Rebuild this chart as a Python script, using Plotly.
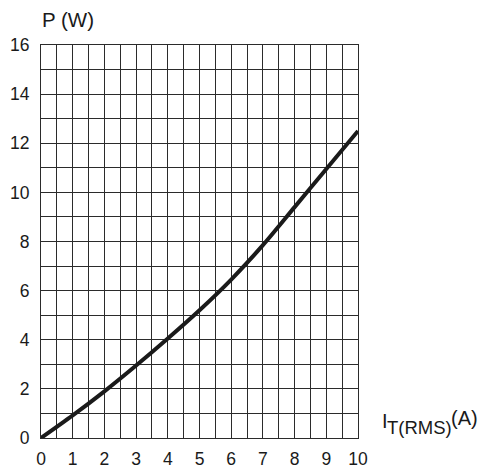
import plotly.graph_objects as go

current_a = [0, 1, 2, 3, 4, 5, 6, 7, 8, 9, 10]
power_w = [0, 0.92, 1.9, 2.95, 4.05, 5.2, 6.45, 7.85, 9.4, 10.95, 12.5]

x_ticks = list(range(0, 11))
y_ticks = list(range(0, 17, 2))

grid_col = "#2b2b2b"
text_col = "#1a1a1a"
font_fam = "Liberation Sans, Arial, sans-serif"

fig = go.Figure()
fig.add_trace(go.Scatter(
    x=current_a, y=power_w, mode="lines",
    line=dict(color=text_col, width=4, shape="spline", smoothing=0.8),
    hoverinfo="skip", showlegend=False,
))

axis_common = dict(
    showgrid=True, gridcolor=grid_col, gridwidth=1,
    showline=True, linecolor=grid_col, linewidth=1, mirror=True,
    zeroline=False, ticks="", fixedrange=True, automargin=False,
    tickfont=dict(size=17.5, color=text_col, family=font_fam),
)

fig.update_xaxes(range=[0, 10], tickvals=x_ticks, ticktext=[str(v) for v in x_ticks],
                 minor=dict(dtick=0.5, showgrid=True, gridcolor=grid_col, gridwidth=1),
                 ticklabelstandoff=5, **axis_common)
fig.update_yaxes(range=[0, 16], tickvals=y_ticks, ticktext=[str(v) for v in y_ticks],
                 minor=dict(dtick=1, showgrid=True, gridcolor=grid_col, gridwidth=1),
                 ticklabelstandoff=7, **axis_common)

fig.add_annotation(text="P (W)", xref="paper", yref="paper", x=0.0, y=1.0,
                   xanchor="left", yanchor="bottom", yshift=12, xshift=-1, showarrow=False,
                   font=dict(size=20.5, color=text_col, family=font_fam))
fig.add_annotation(text="I", xref="paper", yref="paper", x=1.0, y=0.0,
                   xanchor="left", yanchor="middle", xshift=22, yshift=17, showarrow=False,
                   font=dict(size=20, color=text_col, family=font_fam))
fig.add_annotation(text="T(RMS)", xref="paper", yref="paper", x=1.0, y=0.0,
                   xanchor="left", yanchor="middle", xshift=27, yshift=11, showarrow=False,
                   font=dict(size=18.5, color=text_col, family=font_fam))
fig.add_annotation(text="(A)", xref="paper", yref="paper", x=1.0, y=0.0,
                   xanchor="left", yanchor="middle", xshift=91, yshift=20, showarrow=False,
                   font=dict(size=20, color=text_col, family=font_fam))

fig.update_layout(
    width=483, height=462,
    margin=dict(l=33, r=133, t=37, b=32),
    plot_bgcolor="white", paper_bgcolor="white",
)

fig.write_html("out.html")
